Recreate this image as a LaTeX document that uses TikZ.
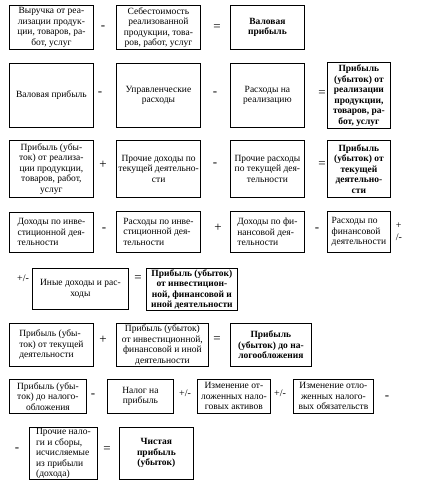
\documentclass[tikz,border=0pt]{standalone}
\usepackage{fontspec}
\setmainfont{Liberation Serif}
\usepackage{tikz}

\tikzset{
  box/.style={draw, line width=0.8pt, anchor=north west, inner sep=2pt,
    align=center, font=\fontsize{9.5}{10.5}\selectfont},
  boldbox/.style={box, font=\fontsize{9.5}{10.5}\selectfont\bfseries},
  op/.style={inner sep=0pt, font=\fontsize{13}{13}\selectfont}
}

\begin{document}
\begin{tikzpicture}[x=1pt, y=-1pt]
\useasboundingbox (0,0) rectangle (421,492);

% row 1 %
\node[box, minimum width=84pt, minimum height=44pt] (vyr) at (9,5) {Выручка от реа-\\лизации продук-\\ции, товаров, ра-\\бот, услуг};
\node[op] (o11) at (103,28) {-};
\node[box, minimum width=84pt, minimum height=44pt] (seb) at (116,5) {Себестоимость\\реализованной\\продукции, това-\\ров, работ, услуг};
\node[op] (o12) at (217,28) {=};
\node[boldbox, minimum width=74pt, minimum height=44pt] (valp) at (230,5) {Валовая\\прибыль};

% row 2 %
\node[box, minimum width=84pt, minimum height=64pt] (val) at (9,63) {Валовая прибыль};
\node[op] (o21) at (100,94) {-};
\node[box, minimum width=84pt, minimum height=64pt] (upr) at (116,63) {Управленческие\\расходы};
\node[op] (o22) at (215,94) {-};
\node[box, minimum width=74pt, minimum height=64pt] (rreal) at (230,63) {Расходы на\\реализацию};
\node[op] (o23) at (322,94) {=};
\node[boldbox, minimum width=63pt, minimum height=66pt, inner sep=1pt] (preal) at (327,62) {Прибыль\\(убыток) от\\реализации\\продукции,\\товаров, ра-\\бот, услуг};

% row 3 %
\node[box, minimum width=84pt, minimum height=57pt] (preal2) at (9,140) {Прибыль (убы-\\ток) от реализа-\\ции продукции,\\товаров, работ,\\услуг};
\node[op] (o31) at (103,165) {+};
\node[box, minimum width=84pt, minimum height=57pt] (pdoh) at (116,140) {Прочие доходы по\\текущей деятельно-\\сти};
\node[op] (o32) at (215,165) {-};
\node[box, minimum width=74pt, minimum height=57pt] (prash) at (230,140) {Прочие расходы\\по текущей дея-\\тельности};
\node[op] (o33) at (322,165) {=};
\node[boldbox, minimum width=63pt, minimum height=57pt] (ptek) at (327,140) {Прибыль\\(убыток) от\\текущей\\деятельно-\\сти};

% row 4 %
\node[box, align=left, minimum width=84pt, minimum height=40pt] (dinv) at (9,212) {Доходы по инве-\\стиционной дея-\\тельности};
\node[op] (o41) at (104,230) {-};
\node[box, align=left, minimum width=84pt, minimum height=41pt] (rinv) at (116,211) {Расходы по инве-\\стиционной дея-\\тельности};
\node[op] (o42) at (218,228) {+};
\node[box, align=left, minimum width=74pt, minimum height=41pt] (dfin) at (230,211) {Доходы по фи-\\нансовой дея-\\тельности};
\node[op] (o43) at (317,230) {-};
\node[box, align=left, minimum width=63pt, minimum height=41pt] (rfin) at (327,211) {Расходы по\\финансовой\\деятельности};
\node[op, align=left, font=\fontsize{10}{12}\selectfont] (o44) at (399,232) {+\\/-};

% row 5 %
\node[op, font=\fontsize{10}{10}\selectfont] (o51) at (23,278) {+/-};
\node[box, minimum width=96pt, minimum height=41pt] (inye) at (32,268) {Иные доходы и рас-\\ходы};
\node[op] (o52) at (138,279) {=};
\node[boldbox, minimum width=91pt, minimum height=41pt, inner sep=1pt] (pinv) at (146,268) {Прибыль (убыток)\\от инвестицион-\\ной, финансовой и\\иной деятельности};

% row 6 %
\node[box, align=left, minimum width=84pt, minimum height=43pt] (ptek2) at (9,323) {Прибыль (убы-\\ток) от текущей\\деятельности};
\node[op] (o61) at (103,340) {+};
\node[box, minimum width=92pt, minimum height=43pt, inner sep=1pt] (pinv2) at (116,323) {Прибыль (убыток)\\от инвестиционной,\\финансовой и иной\\деятельности};
\node[op] (o62) at (217,340) {=};
\node[boldbox, minimum width=81pt, minimum height=43pt] (pdo) at (230,323) {Прибыль\\(убыток) до на-\\логообложения};

% row 7 %
\node[box, minimum width=77pt, minimum height=34pt, inner sep=1pt] (pdo2) at (9,379) {Прибыль (убы-\\ток) до налого-\\обложения};
\node[op] (o71) at (93,396) {-};
\node[box, minimum width=66pt, minimum height=34pt] (nalog) at (107,379) {Налог на\\прибыль};
\node[op, font=\fontsize{10}{10}\selectfont] (o72) at (185,393) {+/-};
\node[box, minimum width=73pt, minimum height=34pt, inner sep=1pt] (aktiv) at (197,379) {Изменение от-\\ложенных нало-\\говых активов};
\node[op, font=\fontsize{10}{10}\selectfont] (o73) at (280,393) {+/-};
\node[box, minimum width=80pt, minimum height=34pt, inner sep=1pt] (obyaz) at (293,379) {Изменение отло-\\женных налого-\\вых обязательств};
\node[op] (o74) at (387,398) {-};

% row 8 %
\node[op] (o81) at (17,450) {-};
\node[box, align=left, minimum width=68pt, minimum height=52pt, inner sep=1pt] (proch) at (29,427) {Прочие нало-\\ги и сборы,\\исчисляемые\\из прибыли\\(дохода)};
\node[op] (o82) at (107,450) {=};
\node[boldbox, minimum width=74pt, minimum height=52pt] (chist) at (119,427) {Чистая\\прибыль\\(убыток)};

\end{tikzpicture}
\end{document}
